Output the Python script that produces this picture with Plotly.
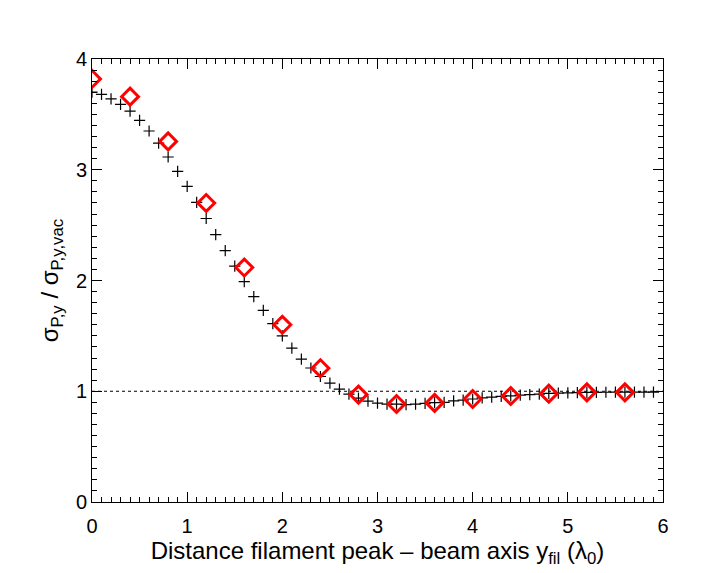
import plotly.graph_objects as go

# simulation (crosses) every 0.1 lambda_0, model (diamonds) every 0.4 lambda_0
sim_x = [round(0.1 * k, 1) for k in range(60)]
sim_y = [3.70, 3.68, 3.64, 3.59, 3.53, 3.445, 3.35, 3.24, 3.115, 2.985,
         2.85, 2.705, 2.56, 2.415, 2.27, 2.13, 1.99, 1.855, 1.73, 1.61,
         1.50, 1.39, 1.29, 1.21, 1.133, 1.073, 1.019, 0.974, 0.938, 0.911,
         0.893, 0.884, 0.884, 0.88, 0.884, 0.89, 0.898, 0.90, 0.913, 0.92,
         0.93, 0.94, 0.947, 0.953, 0.958, 0.965, 0.97, 0.974, 0.98, 0.983,
         0.986, 0.988, 0.99, 0.99, 0.991, 0.992, 0.992, 0.993, 0.993, 0.993]

mod_x = [0.0, 0.4, 0.8, 1.2, 1.6, 2.0, 2.4, 2.8, 3.2, 3.6, 4.0, 4.4, 4.8, 5.2, 5.6]
mod_y = [3.82, 3.66, 3.256, 2.70, 2.117, 1.60, 1.208, 0.97, 0.885, 0.895,
         0.93, 0.957, 0.978, 0.99, 0.99]

ref_x = [0, 6]
ref_y = [1, 1]

fig = go.Figure()

fig.add_trace(go.Scatter(
    x=ref_x, y=ref_y, mode='lines',
    line=dict(color='black', width=1, dash='dot'),
))

fig.add_trace(go.Scatter(
    x=sim_x, y=sim_y, mode='markers',
    marker=dict(symbol='cross-thin', size=8, line=dict(color='black', width=1.2)),
))

fig.add_trace(go.Scatter(
    x=mod_x, y=mod_y, mode='markers',
    marker=dict(symbol='diamond-open', size=13, color='#ff0000',
                line=dict(color='#ff0000', width=3)),
))

tick_font = dict(family='Liberation Sans, Arial, sans-serif', size=20, color='black')
title_font = dict(family='Liberation Sans, Arial, sans-serif', size=24, color='black')

fig.update_layout(
    width=717, height=573,
    margin=dict(l=84, r=62, t=51, b=79),
    paper_bgcolor='white', plot_bgcolor='white',
    showlegend=False,
    font=tick_font,
    xaxis=dict(
        range=[0, 6], dtick=1, tick0=0,
        showgrid=False, zeroline=False, automargin=False,
        showline=True, linecolor='black', linewidth=1, mirror='allticks',
        ticks='inside', ticklen=10, tickcolor='black',
        minor=dict(ticks='inside', ticklen=5, dtick=0.1, tickcolor='black', showgrid=False),
        tickfont=tick_font, ticklabelstandoff=6,
        title=dict(text='Distance filament peak \u2013 beam axis y<sub>fil</sub> (\u03bb<sub>0</sub>)',
                   font=title_font, standoff=0),
    ),
    yaxis=dict(
        range=[0, 4], dtick=1, tick0=0,
        showgrid=False, zeroline=False, automargin=False,
        showline=True, linecolor='black', linewidth=1, mirror='allticks',
        ticks='inside', ticklen=10, tickcolor='black',
        minor=dict(ticks='inside', ticklen=5, dtick=0.1, tickcolor='black', showgrid=False),
        tickfont=tick_font,
        title=dict(text='\u03c3<sub>P,y</sub> / \u03c3<sub>P,y,vac</sub>',
                   font=title_font, standoff=10),
    ),
)

fig.write_html("out.html")
